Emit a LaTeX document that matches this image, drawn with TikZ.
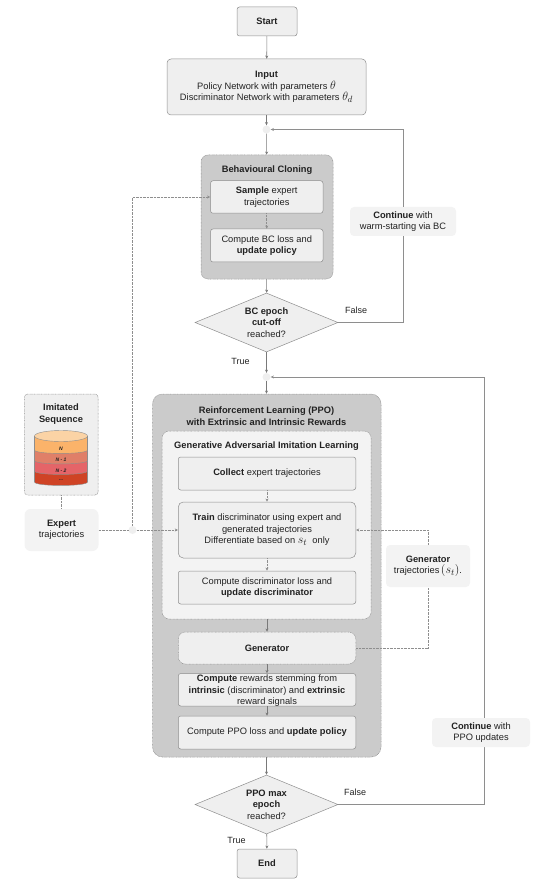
\documentclass[tikz,border=0pt]{standalone}
\usepackage{fontspec}
\setmainfont{Liberation Sans}
\usepackage{amsmath}
\usetikzlibrary{arrows.meta,shapes.geometric,calc}
\definecolor{lg}{HTML}{EFEFEF}
\definecolor{soft}{HTML}{F3F3F3}
\definecolor{bd}{HTML}{8E8E8E}
\definecolor{midg}{HTML}{CBCBCB}
\definecolor{txt}{HTML}{222222}
\definecolor{cTop}{HTML}{FBD3A5}
\definecolor{cA}{HTML}{FBB36A}
\definecolor{cB}{HTML}{E07F68}
\definecolor{cC}{HTML}{E56468}
\definecolor{cD}{HTML}{CF4325}
\newcommand{\mth}[1]{{\fontsize{13}{11.5}\selectfont$#1$}}
\tikzset{
 x=1pt,y=-1pt,
 every node/.style={font=\fontsize{9.3}{11.5}\selectfont,text=txt,align=center,inner sep=0pt},
 boxn/.style={draw=bd,line width=.5pt,fill=lg,rounded corners=2.5pt,minimum width=#1},
 softn/.style={fill=soft,rounded corners=4pt},
 fine/.style={dash pattern=on .7pt off .7pt},
 grp/.style={draw=bd,line width=.5pt,fine,fill=midg,rounded corners=7pt},
 dia/.style={diamond,aspect=2.42,draw=bd,line width=.5pt,fill=lg,minimum width=143pt,minimum height=59pt},
 dot/.style={circle,fill=lg,minimum size=8pt},
 arr/.style={draw=bd!85!black,line width=.55pt,-{Stealth[length=3.2pt,width=3pt]}},
 dotarr/.style={arr,fine,draw=bd},
 loopln/.style={draw=bd,line width=.7pt},
 dotln/.style={draw=bd,line width=.55pt,fine},
 lab/.style={font=\fontsize{9}{11}\selectfont},
}
\newcommand{\lay}[3]{\fill[#3] (34.5,#1) -- (34.5,#2) .. controls (34.5,#2+4.6) and (87.5,#2+4.6) .. (87.5,#2) -- (87.5,#1) -- cycle;
 \draw[bd,line width=.4pt] (34.5,#2) .. controls (34.5,#2+4.6) and (87.5,#2+4.6) .. (87.5,#2);}
\begin{document}
\begin{tikzpicture}
\useasboundingbox (0,0) rectangle (556,882);
% main flow
\node[boxn=60pt,minimum height=29pt] (start) at (267,21.5) {\textbf{Start}};
\node[boxn=199pt,minimum height=56pt,rounded corners=4pt] (input) at (266.5,87) {\textbf{Input}\\Policy Network with parameters \mth{\theta}\\Discriminator Network with parameters \mth{\theta_d}};
\node[dot] (c1) at (266.5,129.5) {};
\node[grp,minimum width=132pt,minimum height=124pt] (bc) at (267,217) {};
\node (bct) at (267,170) {\textbf{Behavioural Cloning}};
\node[boxn=112.5pt,minimum height=32.5pt] (sample) at (266.75,197) {\textbf{Sample} expert\\trajectories};
\node[boxn=112.5pt,minimum height=33pt] (bcl) at (266.75,245.5) {Compute BC loss and\\\textbf{update policy}};
\node[dia] (d1) at (266.5,322.5) {\textbf{BC epoch}\\\textbf{cut-off}\\reached?};
\node[dot] (c2) at (266.5,377) {};
\node[grp,minimum width=228.5pt,minimum height=363pt,rounded corners=10pt] (rl) at (266.75,575.5) {};
\node (rlt) at (266.5,416) {\textbf{Reinforcement Learning (PPO)}\\\textbf{with Extrinsic and Intrinsic Rewards}};
\node[grp,fill=soft,minimum width=209pt,minimum height=188pt] (gail) at (266.6,525) {};
\node (gailt) at (266.5,446) {\textbf{Generative Adversarial Imitation Learning}};
\node[boxn=177.5pt,minimum height=33pt] (collect) at (267,473.5) {\textbf{Collect} expert trajectories};
\node[boxn=177.5pt,minimum height=56pt,rounded corners=5pt] (train) at (267,530) {\textbf{Train} discriminator using expert and\\generated trajectories\\Differentiate based on \mth{s_t}\ \ only};
\node[boxn=177.5pt,minimum height=33pt] (cdisc) at (267,587.5) {Compute discriminator loss and\\\textbf{update discriminator}};
\node[boxn=177.5pt,minimum height=32pt,fine,rounded corners=7pt] (gen) at (267,648) {\textbf{Generator}};
\node[boxn=177.5pt,minimum height=32.5pt] (rew) at (267,689.75) {};
\node (rewt) at (267,690.6) {\textbf{Compute} rewards stemming from\\\textbf{intrinsic} (discriminator) and \textbf{extrinsic}\\reward signals};
\node[boxn=177.5pt,minimum height=33pt] (ppo) at (267,732.5) {Compute PPO loss and \textbf{update policy}};
\node[dia] (d2) at (266.5,804.5) {\textbf{PPO max}\\\textbf{epoch}\\reached?};
\node[boxn=60pt,minimum height=29pt] (end) at (267,863.5) {\textbf{End}};
% left panel
\node[draw=bd,line width=.5pt,fine,fill=lg,rounded corners=3pt,minimum width=73.5pt,minimum height=101pt] (imit) at (61.25,444.5) {};
\node (imt) at (61,414) {\textbf{Imitated}\\\textbf{Sequence}};
\node[dot] (c3) at (132.5,530) {};
% cylinder
\lay{465}{482}{cD}
\lay{455}{471}{cC}
\lay{445}{460.5}{cB}
\lay{436}{450}{cA}
\fill[cTop,draw=bd,line width=.4pt] (61,436) ellipse [x radius=26.5,y radius=5.5];
\draw[bd,line width=.4pt] (34.5,436) -- (34.5,482) (87.5,436) -- (87.5,482);
\node[font=\fontsize{5}{6}\selectfont\bfseries\itshape] (n0) at (61,449) {N};
\node[font=\fontsize{5}{6}\selectfont\bfseries\itshape] (n1) at (61,459.5) {N - 1};
\node[font=\fontsize{5}{6}\selectfont\bfseries\itshape] (n2) at (61,470.5) {N - 2};
\node[font=\fontsize{5}{6}\selectfont\bfseries] (n3) at (61,480) {...};
% side nodes
\coordinate (r1) at (484,804.5);
\coordinate (r2) at (484,377);
\draw[loopln] (d2.east) -- (r1) -- (r2);
\draw[arr,line width=.7pt,draw=bd] (r2) -- (c2.east);
\node[softn,minimum width=106pt,minimum height=29pt] (cbc) at (403,221.5) {\textbf{Continue} with\\warm-starting via BC};
\node[softn,minimum width=98pt,minimum height=29pt] (cppo) at (481,732.5) {\textbf{Continue} with\\PPO updates};
\node[softn,minimum width=84pt,minimum height=42pt] (gtr) at (428,566) {\textbf{Generator}\\trajectories\,\mth{(s_t)}.};
\node[softn,minimum width=74pt,minimum height=42pt,rounded corners=6pt] (exp) at (61.5,530) {\textbf{Expert}\\trajectories};
% labels
\node[lab] (f1) at (356,310) {False};
\node[lab] (t1) at (240.5,361.5) {True};
\node[lab] (f2) at (355,792.5) {False};
\node[lab] (t2) at (236.5,840) {True};
% connectors
\draw[arr] (start) -- (input);
\draw[arr] (input) -- (c1);
\draw[arr] (c1) -- (bc);
\draw[dotarr] (sample) -- (bcl);
\draw[arr] (bc) -- (d1);
\draw[arr] (d1) -- (c2);
\draw[arr] (c2) -- (rl);
\draw[dotarr] (collect) -- (train);
\draw[dotarr] (train) -- (cdisc);
\draw[arr] (gail.south -| gen.north) -- (gen.north);
\draw[arr] (gen) -- (rew);
\draw[arr] (rew) -- (ppo);
\draw[arr] (rl.south -| d2.north) -- (d2.north);
\draw[arr] (d2) -- (end);
\draw[loopln] (d1.east) -| (cbc.south);
\draw[arr,line width=.7pt,draw=bd] (cbc.north) |- (c1.east);
\draw[dotln] (imit.south) -- (imit.south |- exp.north);
\draw[dotln] (exp.east) -- (c3.west);
\draw[dotarr] (c3.east) -- (train.west);
\draw[dotarr] (c3.north) |- (sample.west);
\draw[dotln] (gen.east) -| (gtr.south);
\draw[dotarr] (gtr.north) |- (train.east);
\end{tikzpicture}
\end{document}
